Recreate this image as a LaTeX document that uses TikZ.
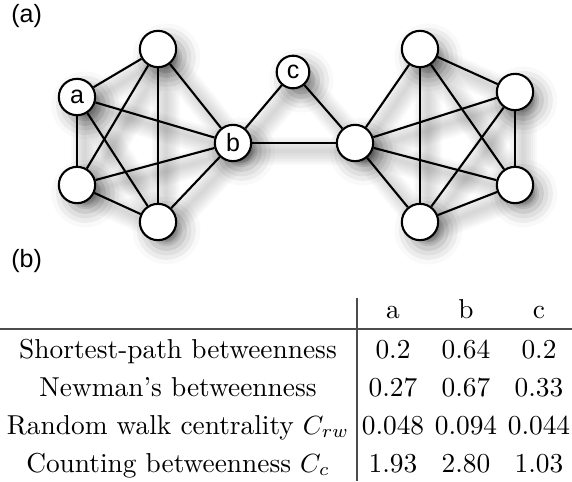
\documentclass[tikz,border=0pt]{standalone}
\usepackage{fontspec}
\newfontfamily\labelfont{Liberation Sans}
\usetikzlibrary{shadows.blur}

\pgfdeclarelayer{background}
\pgfsetlayers{background,main}

\tikzset{
  vertex/.style={circle, draw, line width=0.8pt, fill=white, inner sep=0pt,
    minimum size=13.8pt, font=\labelfont\fontsize{9.5}{10}\selectfont,
    blur shadow={shadow xshift=3.2pt, shadow yshift=-3.2pt,
      shadow blur radius=6pt, shadow opacity=40}},
  small vertex/.style={vertex, minimum size=12.4pt},
  link/.style={line width=0.8pt},
  panel/.style={font=\labelfont\fontsize{9.5}{10}\selectfont, anchor=west},
  cell/.style={anchor=base, font=\fontsize{10.4}{12}\selectfont},
}

\begin{document}
\begin{tikzpicture}[x=0.38pt,y=-0.38pt]
    \useasboundingbox (0,0) rectangle (572,481);

    % Panel labels
    \node[panel] (pa) at (2,16) {(a)};
    \node[panel] (pb) at (2,261) {(b)};

    % Left group
    \node[vertex] (l1) at (158,49) {};
    \node[vertex] (a) at (77,97) {a};
    \node[vertex] (l2) at (77,185) {};
    \node[vertex] (l3) at (158,222) {};
    \node[vertex] (b) at (233,143) {b};

    % Bridge node
    \node[small vertex] (c) at (293,72) {c};

    % Right group
    \node[vertex] (r0) at (355,143) {};
    \node[vertex] (r1) at (420,49) {};
    \node[vertex] (r2) at (515,92) {};
    \node[vertex] (r3) at (515,185) {};
    \node[vertex] (r4) at (420,222) {};

    % Edges, with a soft shadow underneath
    \foreach \u/\v in {l1/a, l1/l2, l1/l3, l1/b, a/l2, a/l3, a/b, l2/l3, l2/b, l3/b,
                       r0/r1, r0/r2, r0/r3, r0/r4, r1/r2, r1/r3, r1/r4, r2/r3, r2/r4, r3/r4,
                       b/c, c/r0, b/r0} {
        \begin{pgfonlayer}{background}
            \foreach \w in {4,8,...,28} {
                \draw[line width=\w*0.38pt, black, opacity=0.025, line cap=round]
                    ([shift={(8,8)}]\u.center) -- ([shift={(8,8)}]\v.center);
            }
        \end{pgfonlayer}
        \draw[link] (\u) -- (\v);
    }

    % Table
    \draw[line width=0.5pt, black!70] (0,329) coordinate (h1) -- (572,329) coordinate (h2);
    \draw[line width=0.5pt, black!70] (357,298) coordinate (v1) -- (357,481) coordinate (v2);

    \node[cell] (ha) at (393,318) {a};
    \node[cell] (hb) at (466,318) {b};
    \node[cell] (hc) at (539,318) {c};

    \node[cell] (t1) at (178,358) {Shortest-path betweenness};
    \node[cell] (t2) at (178,396) {Newman's betweenness};
    \node[cell] (t3) at (178,434) {Random walk centrality $C_{rw}$};
    \node[cell] (t4) at (178,472) {Counting betweenness $C_c$};

    \node[cell] (a1) at (393,358) {0.2};
    \node[cell] (b1) at (466,358) {0.64};
    \node[cell] (c1) at (539,358) {0.2};
    \node[cell] (a2) at (393,396) {0.27};
    \node[cell] (b2) at (466,396) {0.67};
    \node[cell] (c2) at (539,396) {0.33};
    \node[cell] (a3) at (393,434) {0.048};
    \node[cell] (b3) at (466,434) {0.094};
    \node[cell] (c3) at (539,434) {0.044};
    \node[cell] (a4) at (393,472) {1.93};
    \node[cell] (b4) at (466,472) {2.80};
    \node[cell] (c4) at (539,472) {1.03};
\end{tikzpicture}
\end{document}
